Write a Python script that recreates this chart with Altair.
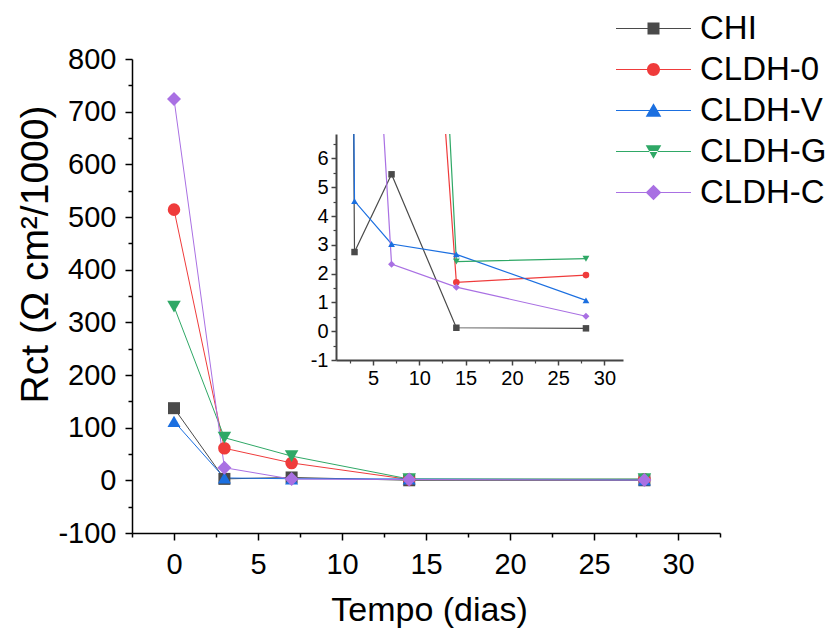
import altair as alt
import pandas as pd

# ---------------- data ----------------
days = [0, 3, 7, 14, 28]
series_names = ["CHI", "CLDH-0", "CLDH-V", "CLDH-G", "CLDH-C"]
chi = [137, 2.75, 5.45, 0.12, 0.10]
cldh_0 = [514, 61, 33, 1.70, 1.95]
cldh_v = [112, 4.52, 3.03, 2.67, 1.07]
cldh_g = [330, 81, 46, 2.42, 2.52]
cldh_c = [724, 24, 2.33, 1.53, 0.52]

main_x_ticks = [0, 5, 10, 15, 20, 25, 30]
main_x_minor = [-2.5, 2.5, 7.5, 12.5, 17.5, 22.5, 27.5, 32.5]
main_y_ticks = [-100, 0, 100, 200, 300, 400, 500, 600, 700, 800]
main_y_minor = [-50, 50, 150, 250, 350, 450, 550, 650, 750]
inset_x_ticks = [5, 10, 15, 20, 25, 30]
inset_x_minor = [2.5, 7.5, 12.5, 17.5, 22.5, 27.5]
inset_y_ticks = [-1, 0, 1, 2, 3, 4, 5, 6]
inset_y_minor = [-0.5, 0.5, 1.5, 2.5, 3.5, 4.5, 5.5, 6.5]

# ---------------- styling ----------------
colors = ["#4a4a4a", "#ef3b3b", "#1b6fe0", "#2fa866", "#a970e3"]
shapes = ["square", "circle", "triangle-up", "triangle-down", "diamond"]
main_sizes = [144, 196, 256, 256, 225]
inset_sizes = [42, 49, 81, 81, 64]
legend_paths = [
    "M-3.75,-0.06H3.75V0.06H-3.75Z M-0.6,-0.6H0.6V0.6H-0.6Z",
    "M-3.75,-0.06H3.75V0.06H-3.75Z M0.65,0A0.65,0.65,0,1,1,-0.65,0A0.65,0.65,0,1,1,0.65,0Z",
    "M-3.75,-0.06H3.75V0.06H-3.75Z M0,-0.72L0.78,0.62L-0.78,0.62Z",
    "M-3.75,-0.06H3.75V0.06H-3.75Z M0,0.72L0.78,-0.62L-0.78,-0.62Z",
    "M-3.75,-0.06H3.75V0.06H-3.75Z M0,-0.78L0.78,0L0,0.78L-0.78,0Z",
]
FONT = "Liberation Sans"
HYPHEN = "replace(datum.label, '\u2212', '-')"

W, H = 588, 474
PAD_L, PAD_T = 132, 59
MAIN_X_DOMAIN = [-2.5, 32.5]
MAIN_Y_DOMAIN = [-100, 800]
INSET_X_DOMAIN = [1, 32]
INSET_Y_DOMAIN = [-1, 6.85]
INSET_X_RANGE = [204, 491]
INSET_Y_RANGE = [301, 75]

rows = []
for name, vals in zip(series_names, [chi, cldh_0, cldh_v, cldh_g, cldh_c]):
    for d, v in zip(days, vals):
        rows.append({"series": name, "day": d, "value": v})
df = pd.DataFrame(rows)
legend_df = pd.DataFrame({"series": series_names})
mask_df = pd.DataFrame({"x0": [INSET_X_DOMAIN[0]], "x1": [INSET_X_DOMAIN[1]],
                        "y0": [INSET_Y_DOMAIN[1]], "y1": [60]})

color_scale = alt.Scale(domain=series_names, range=colors)
shape_scale = alt.Scale(domain=series_names, range=shapes)


def mx():
    return alt.Scale(domain=MAIN_X_DOMAIN, nice=False, zero=False)


def my():
    return alt.Scale(domain=MAIN_Y_DOMAIN, nice=False, zero=False)


def ix():
    return alt.Scale(domain=INSET_X_DOMAIN, range=INSET_X_RANGE, nice=False, zero=False)


def iy():
    return alt.Scale(domain=INSET_Y_DOMAIN, range=INSET_Y_RANGE, nice=False, zero=False)


base = alt.Chart(df)

main_line = base.mark_line(strokeWidth=1, clip=True).encode(
    x=alt.X("day:Q", scale=mx(), axis=alt.Axis(
        orient="bottom", values=main_x_ticks, title="Tempo (dias)", grid=False,
        domainColor="black", domainWidth=1.5, tickColor="black", tickWidth=1.5, tickSize=7,
        labelFont=FONT, labelFontSize=29, labelColor="black", labelPadding=10,
        labelFlush=False, labelOverlap=False, labelExpr=HYPHEN,
        titleFont=FONT, titleFontSize=34, titleFontWeight="normal", titleColor="black",
        titleX=297, titleY=77, titleAlign="center", titleBaseline="middle")),
    y=alt.Y("value:Q", scale=my(), axis=alt.Axis(
        orient="left", values=main_y_ticks, title="Rct (Ω cm²/1000)", grid=False,
        domainColor="black", domainWidth=1.5, tickColor="black", tickWidth=1.5, tickSize=7,
        labelFont=FONT, labelFontSize=29, labelColor="black", labelPadding=9,
        labelFlush=False, labelOverlap=False, labelExpr=HYPHEN,
        titleFont=FONT, titleFontSize=39, titleFontWeight="normal", titleColor="black",
        titleAngle=-90, titleX=-97, titleY=195, titleAlign="center", titleBaseline="middle")),
    color=alt.Color("series:N", scale=color_scale, legend=None),
    detail="series:N",
)

main_pts = base.mark_point(filled=True, opacity=1, clip=True).encode(
    x=alt.X("day:Q", scale=mx(), axis=alt.Axis(
        orient="bottom", values=main_x_minor, labels=False, domain=False, grid=False,
        tickColor="black", tickWidth=1.5, tickSize=4, title=None)),
    y=alt.Y("value:Q", scale=my(), axis=alt.Axis(
        orient="left", values=main_y_minor, labels=False, domain=False, grid=False,
        tickColor="black", tickWidth=1.5, tickSize=4, title=None)),
    color=alt.Color("series:N", scale=color_scale, legend=None),
    shape=alt.Shape("series:N", scale=shape_scale, legend=None),
    size=alt.Size("series:N", scale=alt.Scale(domain=series_names, range=main_sizes), legend=None),
)

inset_line = base.mark_line(strokeWidth=1.2, clip=True).encode(
    x=alt.X("day:Q", scale=ix(), axis=alt.Axis(
        orient="bottom", offset=-(H - INSET_Y_RANGE[0]), values=inset_x_ticks, title=None, grid=False,
        domainColor="#444444", domainWidth=2, tickColor="#444444", tickWidth=1.5, tickSize=5,
        labelFont=FONT, labelFontSize=20, labelColor="black", labelPadding=3,
        labelFlush=False, labelOverlap=False, labelExpr=HYPHEN)),
    y=alt.Y("value:Q", scale=iy(), axis=alt.Axis(
        orient="left", offset=-INSET_X_RANGE[0], values=inset_y_ticks, title=None, grid=False,
        domainColor="#444444", domainWidth=2, tickColor="#444444", tickWidth=1.5, tickSize=5,
        labelFont=FONT, labelFontSize=20, labelColor="black", labelPadding=3,
        labelFlush=False, labelOverlap=False, labelExpr=HYPHEN)),
    color=alt.Color("series:N", scale=color_scale, legend=None),
    detail="series:N",
)

inset_pts = base.mark_point(filled=True, opacity=1, clip=True).encode(
    x=alt.X("day:Q", scale=ix(), axis=alt.Axis(
        orient="bottom", offset=-(H - INSET_Y_RANGE[0]), values=inset_x_minor, labels=False,
        domain=False, grid=False, tickColor="#444444", tickWidth=1.2, tickSize=3, title=None)),
    y=alt.Y("value:Q", scale=iy(), axis=alt.Axis(
        orient="left", offset=-INSET_X_RANGE[0], values=inset_y_minor, labels=False,
        domain=False, grid=False, tickColor="#444444", tickWidth=1.2, tickSize=3, title=None)),
    color=alt.Color("series:N", scale=color_scale, legend=None),
    shape=alt.Shape("series:N", scale=shape_scale, legend=None),
    size=alt.Size("series:N", scale=alt.Scale(domain=series_names, range=inset_sizes), legend=None),
)

# white mask that clips the inset lines at the inset's top edge
inset_mask = alt.Chart(mask_df).mark_rect(color="white", clip=True).encode(
    x=alt.X("x0:Q", scale=ix(), axis=None),
    x2="x1:Q",
    y=alt.Y("y0:Q", scale=iy(), axis=None),
    y2="y1:Q",
)

legend_props = dict(
    title=None, orient="none", legendX=505, legendY=-47,
    symbolSize=400, symbolStrokeWidth=0, symbolOpacity=1,
    labelFont=FONT, labelFontSize=33, labelColor="black", labelOffset=30,
    labelLimit=400, rowPadding=7, padding=0,
)

legend_layer = alt.Chart(legend_df).mark_point(filled=True, size=400, clip=True).encode(
    x=alt.value(-3000),
    y=alt.value(-3000),
    color=alt.Color("series:N", scale=alt.Scale(domain=series_names, range=colors),
                    legend=alt.Legend(**legend_props)),
    shape=alt.Shape("series:N", scale=alt.Scale(domain=series_names, range=legend_paths),
                    legend=alt.Legend(**legend_props)),
)

chart = alt.layer(
    main_line, main_pts, inset_line, inset_pts, inset_mask, legend_layer
).resolve_scale(
    x="independent", y="independent", color="independent",
    shape="independent", size="independent",
).properties(
    width=W, height=H,
    autosize=alt.AutoSizeParams(type="none"),
    padding={"left": PAD_L, "top": PAD_T, "right": 830 - PAD_L - W, "bottom": 630 - PAD_T - H},
    background="white",
).configure_view(stroke=None)

chart.save("out.html", embed_options={"renderer": "svg", "actions": False})
